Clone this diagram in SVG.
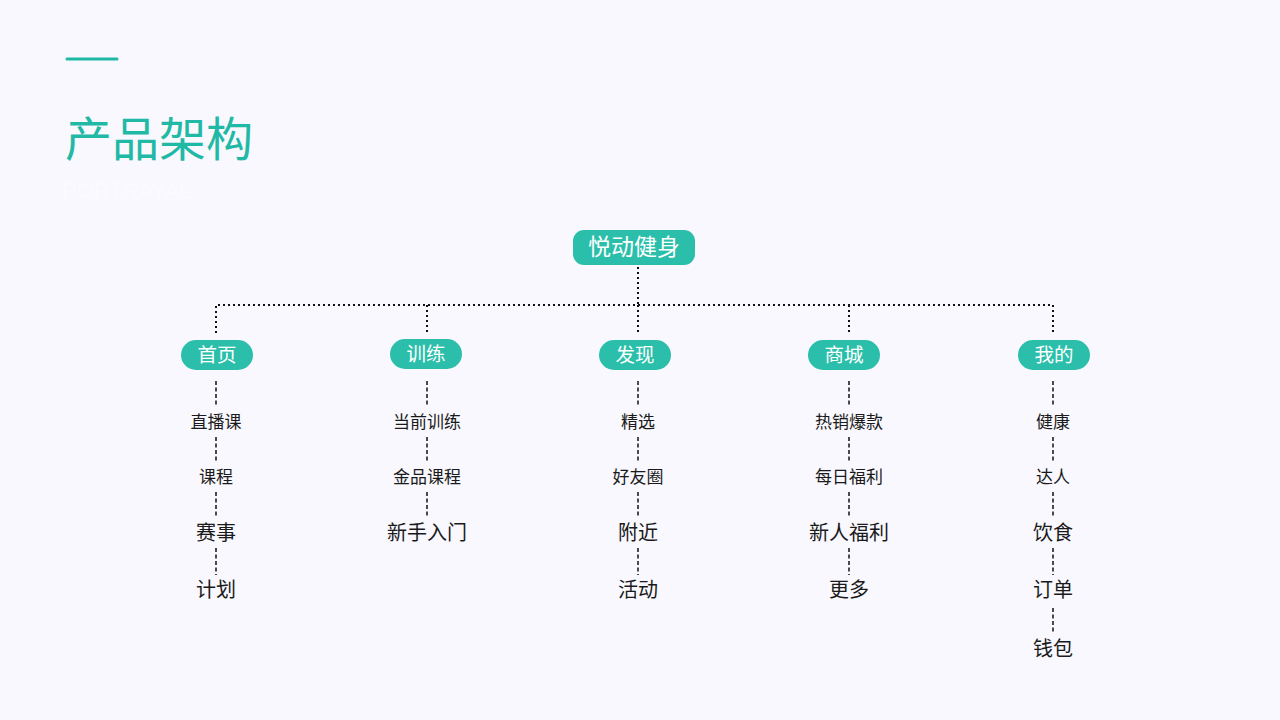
<svg xmlns="http://www.w3.org/2000/svg" width="1280" height="720" viewBox="0 0 1280 720">
<style>
.pill{fill:#2bbfab}
.pt{font-family:"Noto Sans CJK SC","Noto Sans",sans-serif;fill:#ffffff;text-anchor:middle;dominant-baseline:central}
.it{font-family:"Noto Sans CJK SC","Noto Sans",sans-serif;fill:#1a1a1a;text-anchor:middle;dominant-baseline:central}
.s{font-size:17px}
.b{font-size:20px}
.dot{stroke:#111;stroke-width:2;stroke-dasharray:2 3;fill:none}
.dash{stroke:#111;stroke-width:1.5;stroke-dasharray:4 2.5;fill:none}
</style>
<rect width="1280" height="720" fill="#f8f8fe"/>
<g id="header">
<line x1="67" y1="59" x2="117" y2="59" stroke="#1fb9a6" stroke-width="3" stroke-linecap="round"/>
<text x="65" y="156" font-family="Noto Sans CJK SC,sans-serif" font-size="47" fill="#1fb9a6">产品架构</text>
<text x="62" y="198" font-family="Liberation Sans,Arial,sans-serif" font-size="22" fill="#fbfbff">PORTRAYAL</text>
</g>
<g id="connectors">
<line class="dot" x1="638" y1="267" x2="638" y2="305"/>
<polyline class="dot" points="216,333 216,305 1053,305 1053,333"/>
<line class="dot" x1="427" y1="305" x2="427" y2="333"/>
<line class="dot" x1="638" y1="305" x2="638" y2="333"/>
<line class="dot" x1="849" y1="305" x2="849" y2="333"/>
<path class="dash" d="M216 381V407M216 437V463M216 492V518M216 548V575"/>
<path class="dash" d="M427 381V407M427 437V463M427 492V518"/>
<path class="dash" d="M638 381V407M638 437V463M638 492V518M638 548V575"/>
<path class="dash" d="M849 381V407M849 437V463M849 492V518M849 548V575"/>
<path class="dash" d="M1053 381V407M1053 437V463M1053 492V518M1053 548V575M1053 608V634"/>
</g>
<g id="root">
<rect class="pill" x="573" y="230" width="122" height="35" rx="11"/>
<text class="pt" x="634" y="245" font-size="23">悦动健身</text>
</g>
<g id="n-home">
<rect class="pill" x="181" y="340" width="72" height="30" rx="15"/>
<text class="pt" x="217" y="353.5" font-size="19.5">首页</text>
</g>
<g id="n-train">
<rect class="pill" x="390" y="339" width="72" height="30" rx="15"/>
<text class="pt" x="426" y="352.5" font-size="19.5">训练</text>
</g>
<g id="n-find">
<rect class="pill" x="599" y="340" width="72" height="30" rx="15"/>
<text class="pt" x="635" y="353.5" font-size="19.5">发现</text>
</g>
<g id="n-mall">
<rect class="pill" x="808" y="340" width="72" height="30" rx="15"/>
<text class="pt" x="844" y="353.5" font-size="19.5">商城</text>
</g>
<g id="n-mine">
<rect class="pill" x="1018" y="340" width="72" height="30" rx="15"/>
<text class="pt" x="1054" y="353.5" font-size="19.5">我的</text>
</g>
<g id="home-items">
<text class="it s" x="216" y="420.5">直播课</text>
<text class="it s" x="216" y="475.5">课程</text>
<text class="it b" x="216" y="531">赛事</text>
<text class="it b" x="216" y="588">计划</text>
</g>
<g id="train-items">
<text class="it s" x="427" y="420.5">当前训练</text>
<text class="it s" x="427" y="475.5">金品课程</text>
<text class="it b" x="427" y="531">新手入门</text>
</g>
<g id="find-items">
<text class="it s" x="638" y="420.5">精选</text>
<text class="it s" x="638" y="475.5">好友圈</text>
<text class="it b" x="638" y="531">附近</text>
<text class="it b" x="638" y="588">活动</text>
</g>
<g id="mall-items">
<text class="it s" x="849" y="420.5">热销爆款</text>
<text class="it s" x="849" y="475.5">每日福利</text>
<text class="it b" x="849" y="531">新人福利</text>
<text class="it b" x="849" y="588">更多</text>
</g>
<g id="mine-items">
<text class="it s" x="1053" y="420.5">健康</text>
<text class="it s" x="1053" y="475.5">达人</text>
<text class="it b" x="1053" y="531">饮食</text>
<text class="it b" x="1053" y="588">订单</text>
<text class="it b" x="1053" y="647">钱包</text>
</g>
</svg>
